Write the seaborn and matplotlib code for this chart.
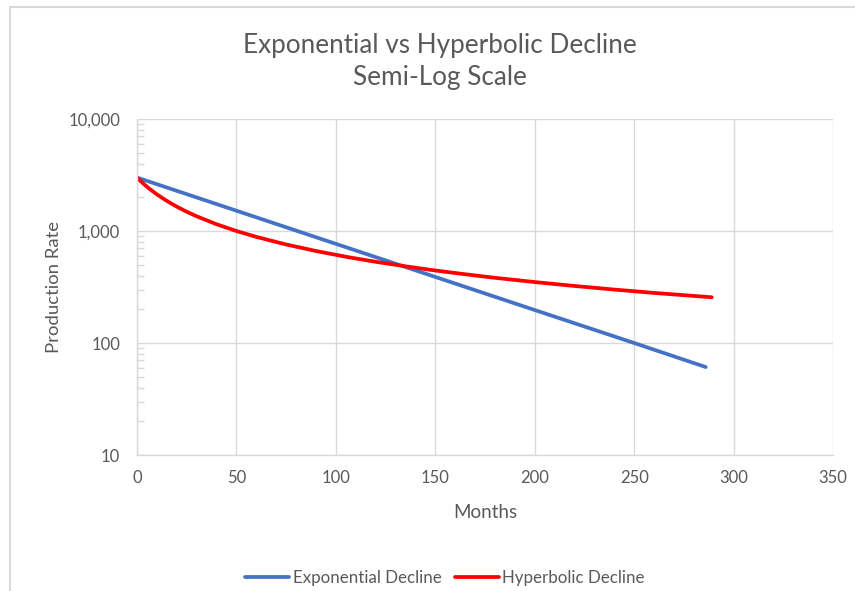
import numpy as np
import pandas as pd
import matplotlib
matplotlib.use("Agg")
import matplotlib.pyplot as plt
import matplotlib.ticker as mticker
from matplotlib.patches import Rectangle
import seaborn as sns

# Production rate by month for each decline model
exp_months = [0, 50, 100, 150, 200, 250, 286]
exp_rate = [3000, 1518, 768, 389, 197, 100, 61]

hyp_months = [0, 3, 6, 10, 15, 20, 25, 30, 40, 50, 60, 75, 90, 105, 120,
              135, 150, 165, 180, 200, 220, 240, 260, 289]
hyp_rate = [3000, 2666, 2402, 2122, 1856, 1650, 1486, 1353, 1149, 1000, 886,
            758, 663, 589, 531, 484, 444, 411, 382, 350, 323, 300, 280, 256]

series_names = ["Exponential Decline", "Hyperbolic Decline"]
x_ticks = [0, 50, 100, 150, 200, 250, 300, 350]
y_ticks = [10, 100, 1000, 10000]

df = pd.concat([
    pd.DataFrame({"Months": exp_months, "Rate": exp_rate, "Series": series_names[0]}),
    pd.DataFrame({"Months": hyp_months, "Rate": hyp_rate, "Series": series_names[1]}),
])

sns.set_theme(style="white")
plt.rcParams["font.family"] = ["Lato", "DejaVu Sans"]
text_color = "#595959"
grid_color = "#d9d9d9"

fig = plt.figure(figsize=(8.55, 5.91), dpi=100)
W, H = 855, 591
ax = fig.add_axes([137 / W, 1 - 455 / H, (833 - 137) / W, (455 - 119) / H])

sns.lineplot(data=df, x="Months", y="Rate", hue="Series", ax=ax,
             palette={series_names[0]: "#4472C4", series_names[1]: "#FF0000"},
             linewidth=2.7, sort=False, estimator=None, legend=True)

ax.set_yscale("log")
ax.set_xlim(0, 350)
ax.set_ylim(10, 10000)
ax.set_xticks(x_ticks)
ax.set_yticks(y_ticks)
ax.yaxis.set_major_formatter(mticker.FuncFormatter(lambda v, p: f"{int(round(v)):,}"))
ax.yaxis.set_minor_locator(mticker.LogLocator(base=10, subs=np.arange(2, 10)))
ax.yaxis.set_minor_formatter(mticker.NullFormatter())

ax.grid(True, which="major", color=grid_color, linewidth=1.0)
ax.set_axisbelow(True)
for s in ["top", "right"]:
    ax.spines[s].set_visible(False)
for s in ["left", "bottom"]:
    ax.spines[s].set_color(grid_color)
    ax.spines[s].set_linewidth(1.0)

ax.tick_params(axis="x", which="both", length=0, pad=11, labelsize=12, colors=text_color)
ax.tick_params(axis="y", which="major", length=0, pad=12, labelsize=12, colors=text_color)
ax.tick_params(axis="y", which="minor", direction="in", length=5, width=1, color=grid_color, left=True)

ax.set_xlabel("Months", fontsize=13.5, color=text_color, labelpad=13)
ax.set_ylabel("Production Rate", fontsize=13.3, color=text_color, labelpad=5)

fig.text(440 / W, 1 - 46 / H, "Exponential vs Hyperbolic Decline", ha="center", va="center",
         fontsize=18.8, color=text_color)
fig.text(440 / W, 1 - 77 / H, "Semi-Log Scale", ha="center", va="center",
         fontsize=18.8, color=text_color)

handles, labels = ax.get_legend_handles_labels()
ax.legend_.remove()
fig.legend(handles, labels, loc="center", bbox_to_anchor=(445 / W, 1 - 578 / H), ncol=2,
           frameon=False, fontsize=12.2, labelcolor=text_color, handlelength=2.6,
           handletextpad=0.2, columnspacing=0.8)

# Chart area border
fig.patches.append(Rectangle((10 / W, -0.01), 1.0, 1 - 7 / H + 0.01, transform=fig.transFigure,
                             fill=False, edgecolor=grid_color, linewidth=1.5))

fig.savefig("out.png", dpi=100, facecolor="white")
